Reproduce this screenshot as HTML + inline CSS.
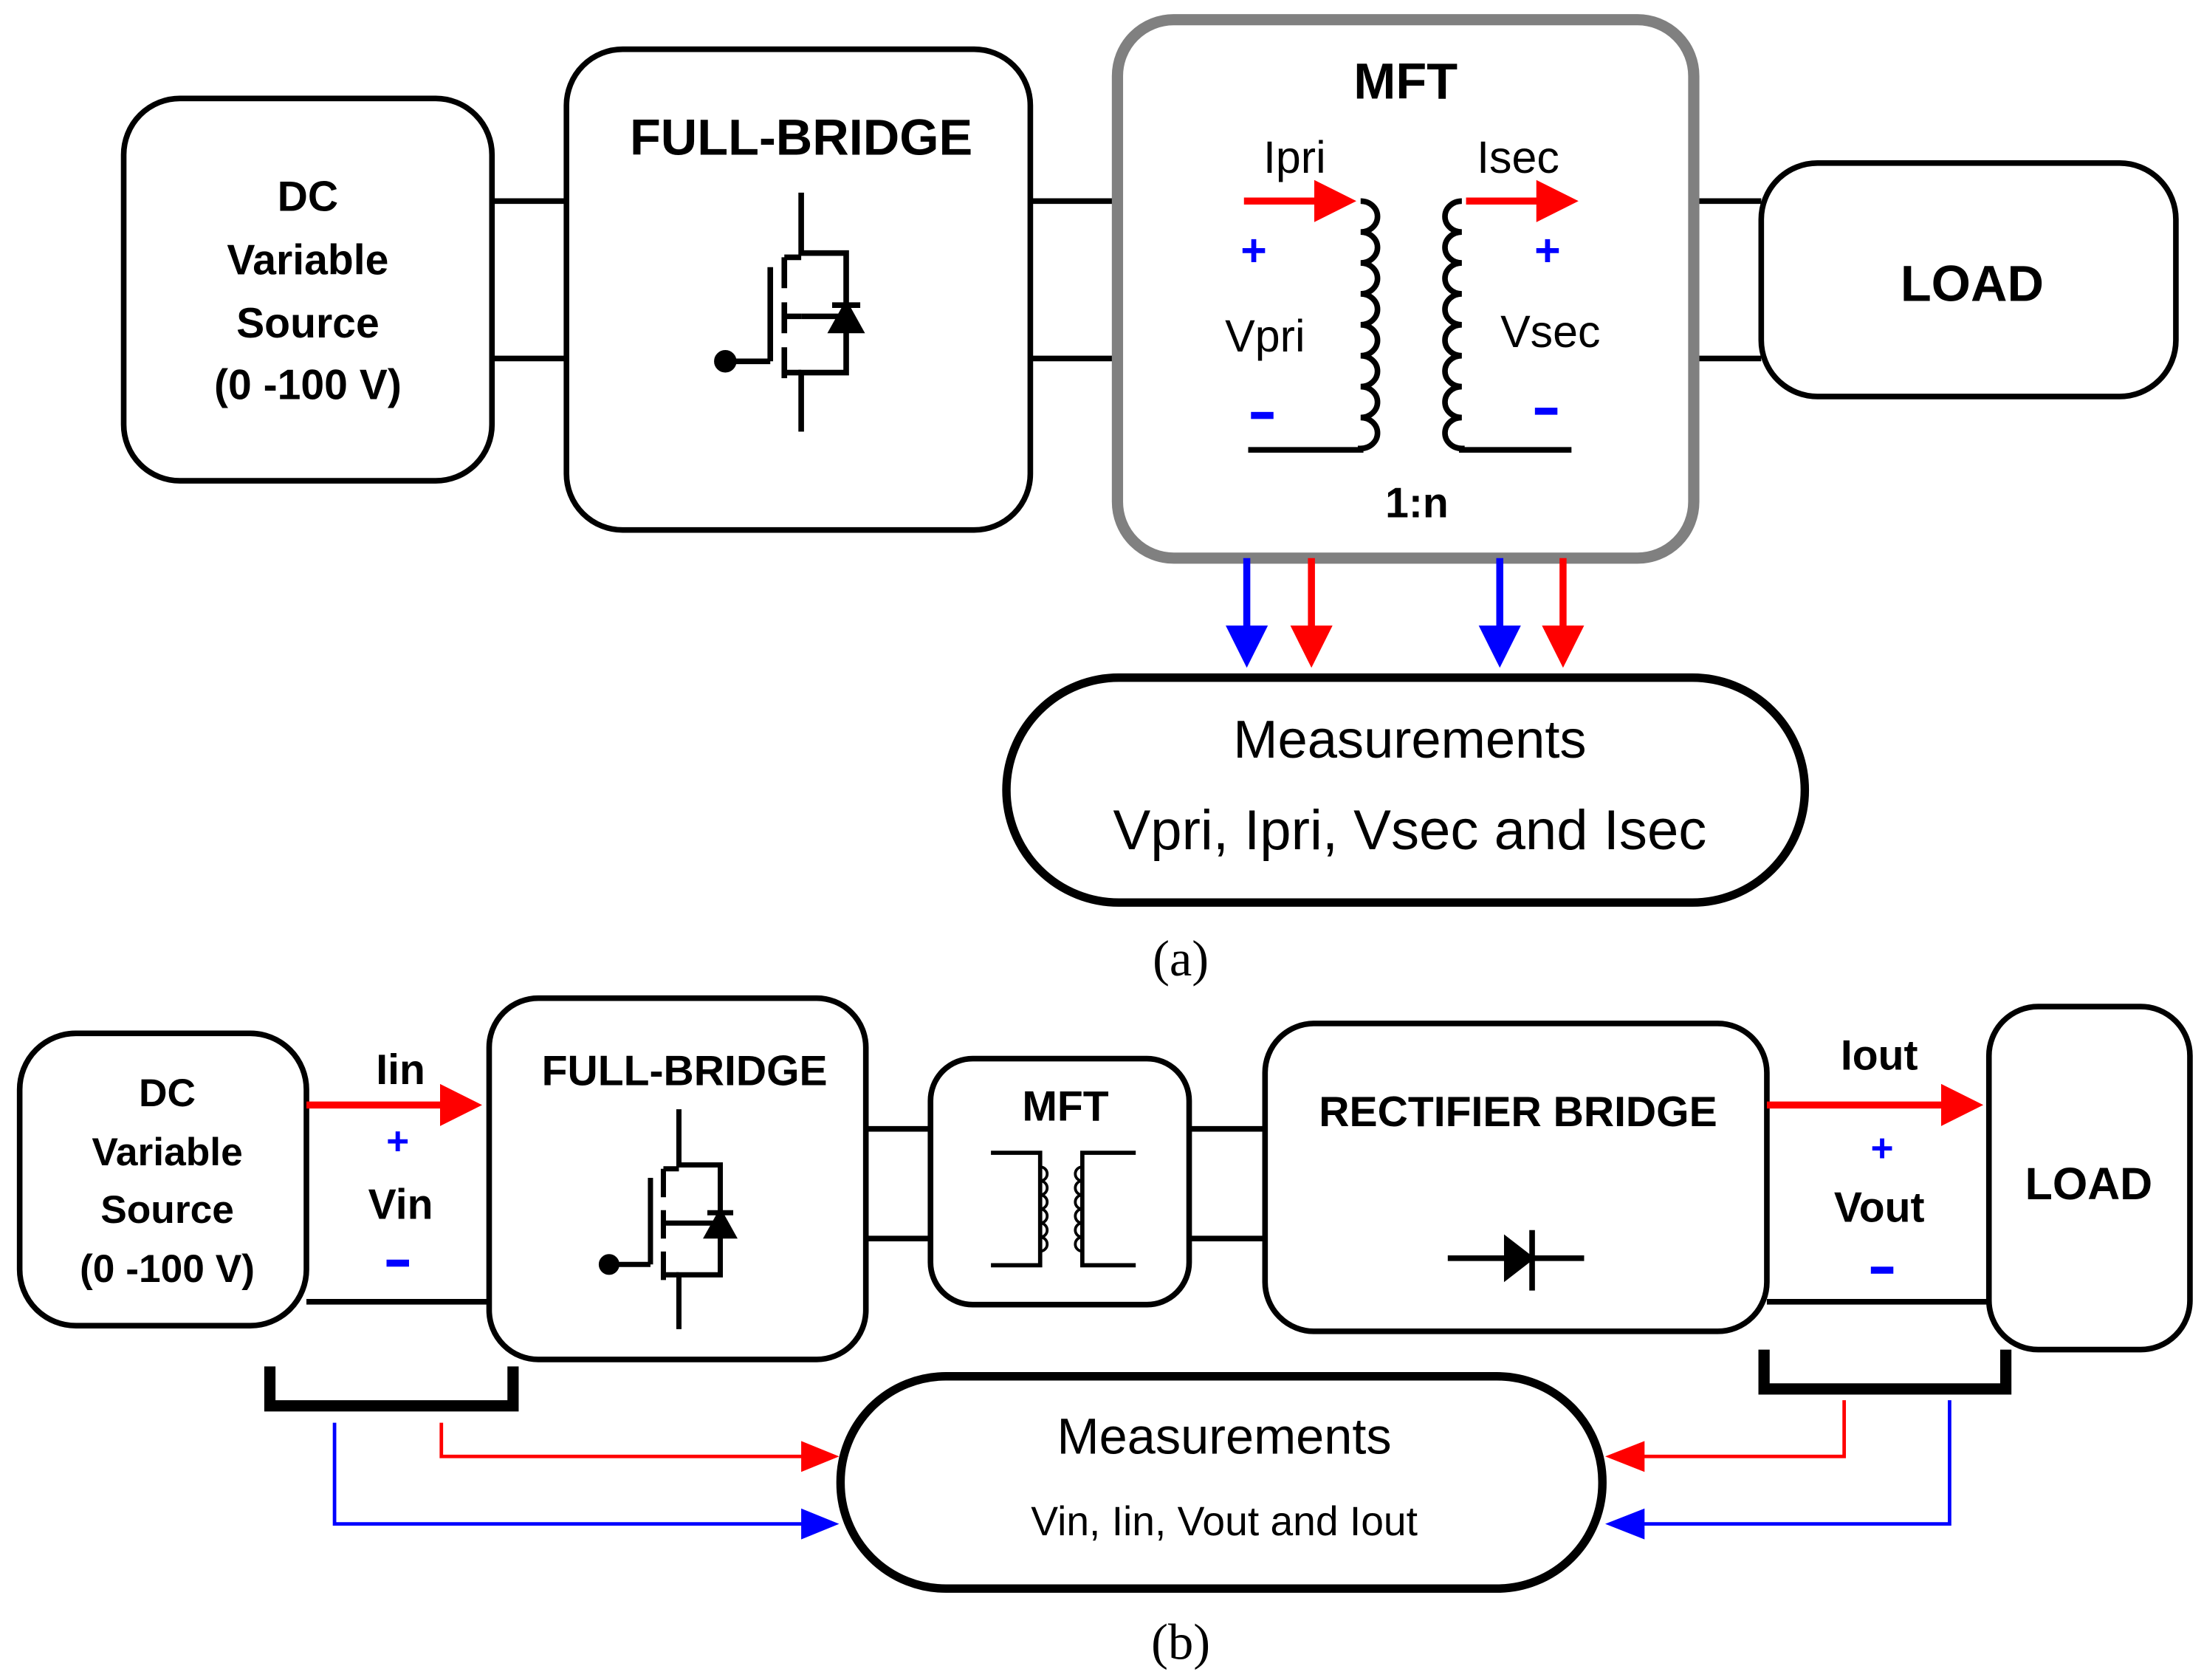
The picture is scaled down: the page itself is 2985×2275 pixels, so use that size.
<!DOCTYPE html>
<html><head><meta charset="utf-8"><style>
html,body{margin:0;padding:0;background:#fff}
svg{display:block}
text{font-family:"Liberation Sans",sans-serif;text-anchor:middle}
.b{font-weight:bold}
</style></head><body>
<svg width="2985" height="2275" viewBox="0 0 1568 1195" xmlns="http://www.w3.org/2000/svg">
<defs>
<marker id="ar" markerWidth="6" markerHeight="6" refX="5" refY="3" orient="auto" markerUnits="strokeWidth"><path d="M0,0 L6,3 L0,6 Z" fill="#f00"/></marker>
<marker id="ab" markerWidth="6" markerHeight="6" refX="5" refY="3" orient="auto" markerUnits="strokeWidth"><path d="M0,0 L6,3 L0,6 Z" fill="#00f"/></marker>
<g id="fet" fill="none" stroke="#000" stroke-width="4">
<path d="M0,-88 V-45 H32 V40 H0 V82"/>
<path d="M0,0 H32"/>
<path d="M-12,-42 V-20 M-12,-10 V12 M-12,22 V44"/>
<path d="M-12,-42 H0 M-12,0 H0 M-12,40 H0"/>
<path d="M-22,-35 V32 M-22,32 H-54"/>
<circle cx="-54" cy="32" r="6" fill="#000"/>
<path d="M22,10 L42,10 L32,-8 Z M22,-8 H42" fill="#000"/>
</g>
</defs>
<g fill="none" stroke="#000" stroke-width="4">
<rect x="88" y="70" width="262" height="272" rx="40"/>
<rect x="403" y="35" width="330" height="342" rx="40"/>
<rect x="1253" y="116" width="295" height="166" rx="40"/>
<path d="M350,143 H403 M350,255 H403 M733,143 H795 M733,255 H795 M1205,143 H1253 M1205,255 H1253"/>
<rect x="716" y="482" width="568" height="160" rx="80" stroke-width="6"/>
<path d="M968,143 a12,11 0 0 1 0,22 a12,11 0 0 1 0,22 a12,11 0 0 1 0,22 a12,11 0 0 1 0,22 a12,11 0 0 1 0,22 a12,11 0 0 1 0,22 a12,11 0 0 1 0,22 a12,11 0 0 1 0,22 V320 H888"/>
<path d="M1040,143 a12,11 0 0 0 0,22 a12,11 0 0 0 0,22 a12,11 0 0 0 0,22 a12,11 0 0 0 0,22 a12,11 0 0 0 0,22 a12,11 0 0 0 0,22 a12,11 0 0 0 0,22 a12,11 0 0 0 0,22 V320 H1118"/>
<rect x="14" y="735" width="204" height="208" rx="40"/>
<rect x="348" y="710" width="268" height="257" rx="35"/>
<rect x="662" y="753" width="184" height="175" rx="30"/>
<rect x="900" y="728" width="357" height="219" rx="35"/>
<rect x="1415" y="716" width="143" height="244" rx="35"/>
<path d="M218,926 H348 M616,803 H662 M616,881 H662 M846,803 H900 M846,881 H900 M1257,926 H1415"/>
<rect x="598" y="979" width="542" height="151" rx="75" stroke-width="6"/>
<path d="M192,972 V1000 H365 V972 M1255,960 V988 H1427 V960" stroke-width="8"/>
<path d="M1030,895 H1127 M1090,875 V918"/>
<path d="M705,820 H740 V900 H705 M808,820 H770 V900 H808" stroke-width="3"/>
<path d="M740,830 a5,5 0 0 1 0,10 a5,5 0 0 1 0,10 a5,5 0 0 1 0,10 a5,5 0 0 1 0,10 a5,5 0 0 1 0,10 a5,5 0 0 1 0,10 M770,830 a5,5 0 0 0 0,10 a5,5 0 0 0 0,10 a5,5 0 0 0 0,10 a5,5 0 0 0 0,10 a5,5 0 0 0 0,10 a5,5 0 0 0 0,10" stroke-width="2"/>
</g>
<path d="M1070,878 L1092,895 L1070,912 Z"/>
<rect x="795" y="14" width="410" height="383" rx="40" fill="none" stroke="#808080" stroke-width="8"/>
<use href="#fet" transform="translate(570,225)"/>
<use href="#fet" transform="translate(483,870) scale(0.92)"/>
<g stroke-width="5">
<path d="M885,143 H960" stroke="#f00" marker-end="url(#ar)"/>
<path d="M1043,143 H1118" stroke="#f00" marker-end="url(#ar)"/>
<path d="M887,397 V470" stroke="#00f" marker-end="url(#ab)"/>
<path d="M933,397 V470" stroke="#f00" marker-end="url(#ar)"/>
<path d="M1067,397 V470" stroke="#00f" marker-end="url(#ab)"/>
<path d="M1112,397 V470" stroke="#f00" marker-end="url(#ar)"/>
<path d="M218,786 H338" stroke="#f00" marker-end="url(#ar)"/>
<path d="M1257,786 H1406" stroke="#f00" marker-end="url(#ar)"/>
</g>
<g fill="none" stroke-width="2.5">
<path d="M314,1012 V1036 H575" stroke="#f00"/>
<path d="M238,1012 V1084 H575" stroke="#00f"/>
<path d="M1312,996 V1036 H1165" stroke="#f00"/>
<path d="M1387,996 V1084 H1165" stroke="#00f"/>
</g>
<path d="M570,1025 L597,1036 L570,1047 Z" fill="#f00"/>
<path d="M570,1073 L597,1084 L570,1095 Z" fill="#00f"/>
<path d="M1170,1025 L1142,1036 L1170,1047 Z" fill="#f00"/>
<path d="M1170,1073 L1142,1084 L1170,1095 Z" fill="#00f"/>
<g class="b" font-size="30">
<text x="219" y="150" class="b">DC</text>
<text x="219" y="195" class="b">Variable</text>
<text x="219" y="240" class="b">Source</text>
<text x="219" y="284" class="b">(0 -100 V)</text>
<text x="570" y="110" font-size="36" class="b">FULL-BRIDGE</text>
<text x="1000" y="70" font-size="36" class="b">MFT</text>
<text x="1403" y="214" font-size="36" class="b">LOAD</text>
<text x="1008" y="368" font-size="30" class="b">1:n</text>
<text x="119" y="787" font-size="28" class="b">DC</text>
<text x="119" y="829" font-size="28" class="b">Variable</text>
<text x="119" y="870" font-size="28" class="b">Source</text>
<text x="119" y="912" font-size="28" class="b">(0 -100 V)</text>
<text x="487" y="772" font-size="30" class="b">FULL-BRIDGE</text>
<text x="758" y="797" font-size="30" class="b">MFT</text>
<text x="1080" y="801" font-size="30" class="b">RECTIFIER BRIDGE</text>
<text x="1486" y="853" font-size="32" class="b">LOAD</text>
<text x="285" y="771" font-size="30" class="b">Iin</text>
<text x="285" y="867" font-size="30" class="b">Vin</text>
<text x="1337" y="761" font-size="30" class="b">Iout</text>
<text x="1337" y="869" font-size="30" class="b">Vout</text>
</g>
<g font-size="32">
<text x="921" y="123">Ipri</text>
<text x="1080" y="123">Isec</text>
<text x="900" y="250">Vpri</text>
<text x="1103" y="247">Vsec</text>
<text x="1003" y="539" font-size="38">Measurements</text>
<text x="1003" y="604" font-size="40">Vpri, Ipri, Vsec and Isec</text>
<text x="871" y="1034" font-size="36">Measurements</text>
<text x="871" y="1092" font-size="29">Vin, Iin, Vout and Iout</text>
</g>
<g fill="#00f" font-size="32" class="b">
<text x="892" y="189" class="b">+</text>
<text x="1101" y="189" class="b">+</text>
<text x="283" y="821" class="b" font-size="28">+</text>
<text x="1339" y="826" class="b" font-size="28">+</text>
</g>
<g fill="#00f">
<rect x="890" y="293" width="16" height="5"/>
<rect x="1092" y="290" width="16" height="5"/>
<rect x="275" y="896" width="16" height="5"/>
<rect x="1331" y="901" width="16" height="5"/>
</g>
<text x="840" y="694" font-size="36" style="font-family:'Liberation Serif',serif">(a)</text>
<text x="840" y="1180" font-size="36" style="font-family:'Liberation Serif',serif">(b)</text>
</svg>
</body></html>
